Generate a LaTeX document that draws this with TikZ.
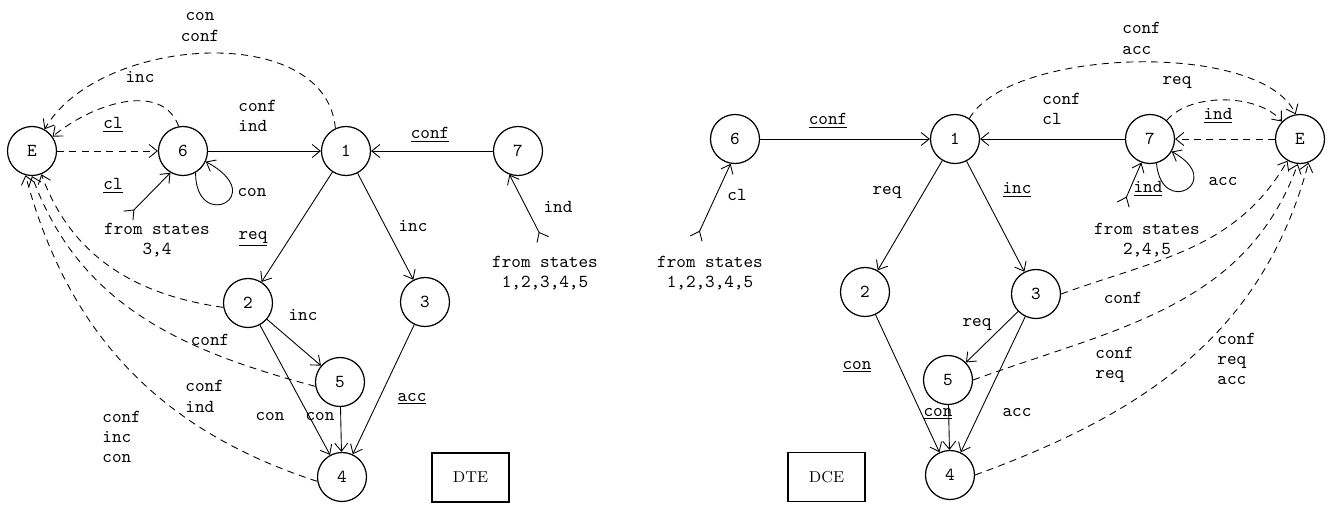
\documentclass[tikz,border=0pt]{standalone}
\usepackage{amsmath}
\usepackage{tikz}
\usetikzlibrary{arrows.meta}

\newcommand{\lbl}{\ttfamily\fontsize{10.4}{11.6}\selectfont}

\begin{document}
\begin{tikzpicture}[scale=0.2, line width=0.5pt, >={Straight Barb[length=1.6mm,width=2.6mm]}]
    \tikzstyle{every node}+=[inner sep=0pt, font=\lbl]
    \tikzstyle{state}=[draw=black, circle, minimum size=0.98cm, line width=0.7pt]
    \tikzstyle{dbox}=[draw=black, minimum width=1.54cm, minimum height=0.98cm, line width=0.7pt, font=\rmfamily\fontsize{9}{10}\selectfont]
    \tikzstyle{err}=[dash pattern=on 4pt off 3pt]
    \useasboundingbox (0,0) rectangle (132.9,-50.4);
    % DTE side
    \node [state] (lE) at (3.2,-15.1) {E};
    \node [state] (l6) at (18.3,-15.1) {6};
    \node [state] (l1) at (34.6,-15.1) {1};
    \node [state] (l7) at (51.8,-15.1) {7};
    \node [state] (l2) at (24.8,-30.3) {2};
    \node [state] (l3) at (42.5,-30.2) {3};
    \node [state] (l5) at (34.0,-38.2) {5};
    \node [state] (l4) at (34.2,-47.7) {4};
    \node [dbox] (dte) at (47.05,-47.75) {DTE};
    \coordinate (ltail6) at (12.8,-21.6);
    \coordinate (ltail7) at (54.3,-24.0);
    \draw [->, err] (lE) -- (l6);
    \draw [->, err] (l6.100) to [out=110, in=40] (lE.35);
    \draw [->, err] (l1.115) to [out=95, in=60, looseness=0.95] (lE.60);
    \draw [->] (l6) -- (l1);
    \draw [->] (l7) -- (l1);
    \draw [->] (l1) -- (l2);
    \draw [->] (l1) -- (l3);
    \draw [->] (l2) -- (l5);
    \draw [->] (l2) -- (l4);
    \draw [->] (l5) -- (l4);
    \draw [->] (l3) -- (l4);
    \draw [->, err] (l2.190) to [out=172, in=-70] (lE.-68);
    \draw [->, err] (l5.190) to [out=165, in=-70] (lE.-90);
    \draw [->, err] (l4.190) to [out=162, in=-75] (lE.-105);
    \draw [>->] (ltail6) -- (l6.240);
    \draw [>->] (ltail7) -- (l7.250);
    \draw [->] (l6.300) .. controls +(0,-6) and +(6.5,-3.5) .. (l6.335);
    \node [align=center] (lcc) at (20.0,-2.7) {con\\conf};
    \node (linc) at (14.0,-7.7) {inc};
    \node [anchor=west, align=left] (lci) at (23.8,-11.6) {conf\\ind};
    \node (lcl1) at (11.3,-12.5) {\underline{cl}};
    \node (lcl2) at (11.3,-18.6) {\underline{cl}};
    \node (lcon6) at (25.2,-19.3) {con};
    \node [align=center] (lfrom6) at (15.7,-24.0) {from states\\3,4};
    \node (lreq) at (25.3,-23.9) {\underline{req}};
    \node (linc13) at (41.3,-22.6) {inc};
    \node (lconf71) at (43.0,-13.5) {\underline{conf}};
    \node (lind7) at (55.8,-20.7) {ind};
    \node [align=center] (lfrom7) at (54.5,-27.3) {from states\\1,2,3,4,5};
    \node (linc25) at (30.3,-31.5) {inc};
    \node (lconf2) at (21.0,-34.0) {conf};
    \node [anchor=west, align=left] (lci5) at (18.5,-39.65) {conf\\ind};
    \node [anchor=west, align=left] (lcic4) at (10.2,-43.7) {conf\\inc\\con};
    \node (lcon24) at (27.0,-41.7) {con};
    \node (lcon54) at (32.0,-41.7) {con};
    \node (lacc34) at (41.2,-39.9) {\underline{acc}};
    % DCE side
    \node [state] (r6) at (73.5,-13.9) {6};
    \node [state] (r1) at (95.5,-13.9) {1};
    \node [state] (r7) at (115.0,-13.9) {7};
    \node [state] (rE) at (130.0,-13.9) {E};
    \node [state] (r2) at (86.5,-29.2) {2};
    \node [state] (r3) at (103.6,-29.4) {3};
    \node [state] (r5) at (94.8,-38.0) {5};
    \node [state] (r4) at (95.0,-47.5) {4};
    \node [dbox] (dce) at (82.65,-47.7) {DCE};
    \coordinate (rtail6) at (69.6,-23.9);
    \coordinate (rtail7) at (112.3,-20.5);
    \draw [->] (r6) -- (r1);
    \draw [->] (r7) -- (r1);
    \draw [->] (r1) -- (r2);
    \draw [->] (r1) -- (r3);
    \draw [->] (r3) -- (r5);
    \draw [->] (r2) -- (r4);
    \draw [->] (r5) -- (r4);
    \draw [->] (r3) -- (r4);
    \draw [->, err] (rE) -- (r7);
    \draw [->, err] (r1.55) to [out=60, in=115, looseness=0.64] (rE.100);
    \draw [->, err] (r7.48) to [out=50, in=130, looseness=0.81] (rE.136);
    \draw [->, err] (r3.east) to [out=20, in=-120] (rE.240);
    \draw [->, err] (r5.east) to [out=20, in=-110] (rE.-95);
    \draw [->, err] (r4.east) to [out=20, in=-105] (rE.-70);
    \draw [>->] (rtail6) -- (r6.260);
    \draw [>->] (rtail7) -- (r7.250);
    \draw [->] (r7.285) .. controls +(0.5,-5.5) and +(5.5,-3) .. (r7.330);
    \node [anchor=west, align=left] (rca) at (112.2,-3.85) {conf\\acc};
    \node (rreq7) at (117.7,-8.3) {req};
    \node [anchor=west, align=left] (rccl) at (104.2,-10.9) {conf\\cl};
    \node (rindE) at (121.8,-11.6) {\underline{ind}};
    \node (rconf61) at (82.8,-12.1) {\underline{conf}};
    \node (rcl) at (73.7,-19.5) {cl};
    \node (rreq12) at (88.7,-19.3) {req};
    \node (rinc13) at (101.7,-19.0) {\underline{inc}};
    \node (rind7) at (114.8,-18.9) {\underline{ind}};
    \node (racc7) at (122.3,-18.2) {acc};
    \node [align=center] (rfrom7) at (114.7,-24.0) {from states\\2,4,5};
    \node [align=center] (rfrom6) at (71.0,-27.3) {from states\\1,2,3,4,5};
    \node (rconf3) at (112.3,-29.8) {conf};
    \node (rreq35) at (97.7,-32.5) {req};
    \node [anchor=west, align=left] (rcr5) at (109.5,-36.5) {conf\\req};
    \node [anchor=west, align=left] (rcra4) at (121.7,-35.9) {conf\\req\\acc};
    \node (rcon24) at (85.7,-36.7) {\underline{con}};
    \node (rcon54) at (93.8,-41.4) {\underline{con}};
    \node (racc34) at (101.7,-41.3) {acc};
\end{tikzpicture}
\end{document}
